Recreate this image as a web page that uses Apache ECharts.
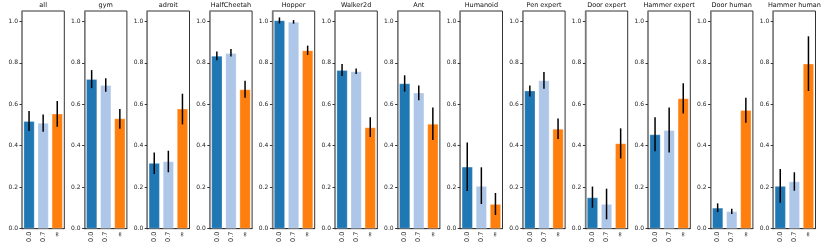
<!DOCTYPE html>
<html><head><meta charset="utf-8">
<script src="https://cdn.jsdelivr.net/npm/echarts@6/dist/echarts.min.js"></script>
<style>html,body{margin:0;padding:0;background:#fff}#c{width:830px;height:245px}</style>
</head><body><div id="c"></div>
<script>
const panels = ["all","gym","adroit","HalfCheetah","Hopper","Walker2d","Ant","Humanoid","Pen expert","Door expert","Hammer expert","Door human","Hammer human"];
const categories = ["0.0","0.7","∞"];
const yTicks = [0,0.2,0.4,0.6,0.8,1.0];
const means = [
  [0.519,0.510,0.555],
  [0.722,0.693,0.532],
  [0.317,0.325,0.579],
  [0.834,0.847,0.672],
  [1.005,0.998,0.860],
  [0.765,0.759,0.489],
  [0.701,0.656,0.506],
  [0.299,0.206,0.119],
  [0.666,0.715,0.482],
  [0.151,0.119,0.412],
  [0.455,0.476,0.629],
  [0.101,0.084,0.572],
  [0.206,0.228,0.796]
];
const errLow = [
  [0.471,0.468,0.492],
  [0.678,0.661,0.482],
  [0.264,0.272,0.503],
  [0.812,0.830,0.632],
  [0.990,0.989,0.838],
  [0.736,0.746,0.442],
  [0.661,0.619,0.428],
  [0.182,0.119,0.066],
  [0.637,0.675,0.432],
  [0.101,0.045,0.339],
  [0.373,0.367,0.556],
  [0.080,0.071,0.511],
  [0.125,0.183,0.664]
];
const errHigh = [
  [0.568,0.551,0.616],
  [0.765,0.725,0.577],
  [0.368,0.376,0.651],
  [0.855,0.867,0.714],
  [1.019,1.006,0.883],
  [0.794,0.773,0.537],
  [0.740,0.691,0.585],
  [0.416,0.296,0.172],
  [0.691,0.756,0.532],
  [0.203,0.193,0.484],
  [0.537,0.585,0.701],
  [0.122,0.096,0.632],
  [0.288,0.272,0.928]
];
const colors = ["#1f77b4","#aec7e8","#ff7f0e"];

const chart = echarts.init(document.getElementById('c'), null, {renderer:'canvas'});
const grid=[], xAxis=[], yAxis=[], series=[], title=[];
const font = "DejaVu Sans";
panels.forEach((name,i)=>{
  const left = 22 + 62.6*i;
  grid.push({left:left, top:11, width:42.3, height:218, show:true, borderColor:'#333', borderWidth:1, backgroundColor:'transparent'});
  title.push({text:name, left:left+21.15, top:2, padding:0, textAlign:'center',
    textStyle:{fontSize:6.5, fontWeight:'normal', color:'#111', fontFamily:font}});
  xAxis.push({type:'category', gridIndex:i, data:categories, boundaryGap:true,
    axisLine:{lineStyle:{color:'#333',width:1}},
    axisTick:{alignWithLabel:true, length:2.5, lineStyle:{color:'#333'}},
    axisLabel:{rotate:90, fontSize:6.5, color:'#222', fontFamily:font, margin:3, interval:0}});
  yAxis.push({type:'value', gridIndex:i, min:0, max:1.05,
    axisLine:{show:true, lineStyle:{color:'#888',width:1.5}},
    axisTick:{show:true, length:2.5, lineStyle:{color:'#333'}, customValues:yTicks},
    axisLabel:{fontSize:6, color:'#222', fontFamily:font, margin:4, customValues:yTicks,
      formatter:v=>v.toFixed(1)},
    splitLine:{show:false}});
  series.push({type:'bar', xAxisIndex:i, yAxisIndex:i, barWidth:'79%',
    data: means[i].map((v,j)=>({value:v, itemStyle:{color:colors[j], borderColor:'rgba(255,255,255,0.35)', borderWidth:0.8}})),
    animation:false, silent:true});
  series.push({type:'custom', xAxisIndex:i, yAxisIndex:i, silent:true, animation:false, z:5,
    data: categories.map((c,j)=>[j, errLow[i][j], errHigh[i][j]]),
    renderItem:(params, api)=>{
      const p1 = api.coord([api.value(0), api.value(1)]);
      const p2 = api.coord([api.value(0), api.value(2)]);
      return {type:'line', shape:{x1:p1[0], y1:p1[1], x2:p2[0], y2:p2[1]},
        style:{stroke:'#000', lineWidth:1.5}};
    }});
});
chart.setOption({animation:false, title, grid, xAxis, yAxis, series});
</script></body></html>
